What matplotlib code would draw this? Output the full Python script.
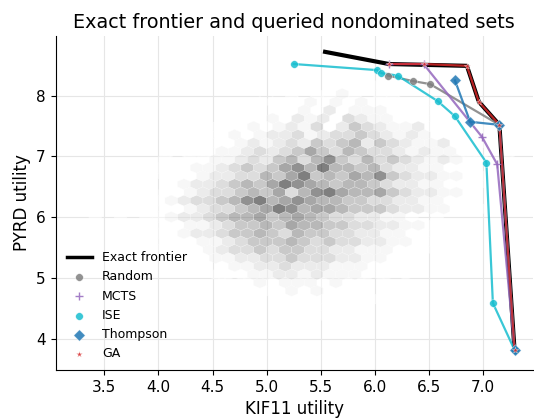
import numpy as np
import matplotlib
matplotlib.use('Agg')
import matplotlib.pyplot as plt
from matplotlib.lines import Line2D

# exact frontier (KIF11, PYRD)
frontier_x = [5.54, 6.13, 6.85, 6.96, 7.15, 7.29]
frontier_y = [8.72, 8.52, 8.49, 7.90, 7.52, 3.82]

# queried nondominated sets
random_x = [6.12, 6.35, 6.51, 7.15, 7.29]
random_y = [8.33, 8.24, 8.19, 7.52, 3.82]
mcts_x = [6.13, 6.45, 6.99, 7.13, 7.29]
mcts_y = [8.52, 8.52, 7.32, 6.87, 3.82]
ise_x = [5.25, 6.02, 6.06, 6.21, 6.58, 6.74, 7.03, 7.09, 7.29]
ise_y = [8.52, 8.42, 8.37, 8.33, 7.91, 7.66, 6.90, 4.59, 3.82]
thompson_x = [6.74, 6.88, 7.15, 7.29]
thompson_y = [8.25, 7.57, 7.52, 3.82]
ga_x = [6.13, 6.45, 6.85, 6.96, 7.15, 7.29]
ga_y = [8.52, 8.52, 8.49, 7.90, 7.52, 3.82]

# background density of all candidates (hex counts, top row first, '.' = empty)
density_rows = [
    "....................1.1",
    "..................1.11.1",
    "................1.1121.11",
    "..............11.121212111.1",
    "............1..11213122211.1.1",
    "...........1.112132314322111.1",
    "..........11121232413543223111.1",
    ".........11.212334234454323211111",
    "........1.1123234354563543223111.1",
    ".......11.1223434575465443232211.11",
    "......1.112234356468546454323211.1",
    ".....11.122345457869665643322111.1",
    ".....1.1123344657956576854332211.11",
    "...1.1.12334565798765665433221111",
    "..1.1.1123445657468976675433221.1",
    ".1.1.11234456896787665544332211",
    "..1.11.1234456798677655543322111",
    ".1.1.1123345667567654433221.1",
    "..1.11.12234556576655443322111",
    "...11.1123345565465544332211.1",
    ".....1.112234555654544332211",
    "......1.112344545544332221.1",
    "........1122334454443322111",
    ".........1.122334333222111",
    "..........11122332322211.1",
    "...........1.1212221211.1",
    "............1.112121111",
    "..............1.11.111.1",
    "...............1..11.1",
    ".................1.1",
]
hex_x0, hex_dx = 3.3, 0.117
hex_y0, hex_dy = 4.385, 0.27
hex_nx, hex_ny = 35, 15

hx, hy, hc = [], [], []
n_rows = len(density_rows)
for t, row in enumerate(density_rows):
    b = n_rows - 1 - t
    for c, ch in enumerate(row):
        if ch == '.':
            continue
        hx.append(hex_x0 + (c + 0.5 * (b % 2)) * hex_dx)
        hy.append(hex_y0 + b * hex_dy / 2)
        hc.append(int(ch))

fig = plt.figure(figsize=(5.34, 4.19), dpi=100)
ax = fig.add_axes([0.104, 0.117, 0.894, 0.797])

ax.grid(True, color='#e6e6e6', lw=0.8, zorder=0)
ax.set_axisbelow(True)

ax.hexbin(hx, hy, C=hc, gridsize=(hex_nx, hex_ny),
          extent=(hex_x0, hex_x0 + hex_nx * hex_dx, hex_y0, hex_y0 + hex_ny * hex_dy),
          reduce_C_function=np.sum, cmap='Greys', alpha=0.5, linewidths=0.3,
          edgecolors='white', zorder=1)

ax.plot(frontier_x, frontier_y, color='black', lw=3, zorder=3)

series = [
    (random_x, random_y, '#7f7f7f', 'o', 'Random', 30),
    (mcts_x, mcts_y, '#9467bd', '+', 'MCTS', 36),
    (ise_x, ise_y, '#17becf', 'o', 'ISE', 30),
    (thompson_x, thompson_y, '#1f77b4', 'D', 'Thompson', 34),
    (ga_x, ga_y, '#d62728', '*', 'GA', 22),
]
for sx, sy, col, mk, lab, size in series:
    ax.plot(sx, sy, color=col, lw=1.6, alpha=0.85, zorder=4)
    ax.scatter(sx, sy, color=col, marker=mk, s=size, alpha=0.85, label=lab,
               edgecolors='white' if mk != '+' else None,
               linewidths=0.3 if mk != '+' else 1.0, zorder=5)

ax.set_xlim(3.05, 7.46)
ax.set_ylim(3.49, 8.98)
ax.set_xticks([3.5, 4.0, 4.5, 5.0, 5.5, 6.0, 6.5, 7.0])
ax.set_yticks([4, 5, 6, 7, 8])
ax.tick_params(labelsize=11)
for s in ['top', 'right']:
    ax.spines[s].set_visible(False)
ax.set_xlabel('KIF11 utility', fontsize=12)
ax.set_ylabel('PYRD utility', fontsize=12)
ax.set_title('Exact frontier and queried nondominated sets', fontsize=13.8)

handles, labels = ax.get_legend_handles_labels()
handles = [Line2D([0], [0], color='black', lw=2.5)] + handles
labels = ['Exact frontier'] + labels
ax.legend(handles, labels, loc='lower left', frameon=False, fontsize=9,
          bbox_to_anchor=(0.0, -0.005))

fig.savefig('out.png', dpi=100)
